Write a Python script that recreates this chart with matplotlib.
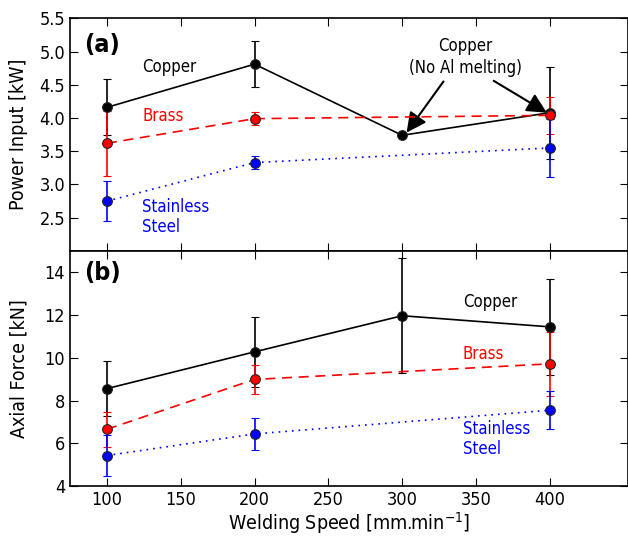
import numpy as np
import matplotlib
matplotlib.use("Agg")
import matplotlib.pyplot as plt

speeds = [100, 200, 300, 400]
speeds_3 = [100, 200, 400]

# power input [kW]
power_cu = [4.16, 4.81, 3.74, 4.08]
power_cu_err = [0.42, 0.35, 0.03, 0.69]
power_br = [3.62, 3.99, 4.04]
power_br_err = [0.49, 0.10, 0.28]
power_ss = [2.75, 3.33, 3.55]
power_ss_err = [0.30, 0.10, 0.43]

# axial force [kN]
force_cu = [8.56, 10.28, 11.97, 11.45]
force_cu_err = [1.28, 1.65, 2.70, 2.26]
force_br = [6.66, 8.99, 9.72]
force_br_err = [0.82, 0.68, 1.50]
force_ss = [5.43, 6.44, 7.55]
force_ss_err = [0.95, 0.74, 0.88]

plt.rcParams['font.family'] = 'DejaVu Sans'
plt.rcParams['font.stretch'] = 'condensed'
plt.rcParams['xtick.direction'] = 'in'
plt.rcParams['ytick.direction'] = 'in'
plt.rcParams['xtick.top'] = True
plt.rcParams['ytick.right'] = True
plt.rcParams['xtick.major.size'] = 6
plt.rcParams['ytick.major.size'] = 6

fig = plt.figure(figsize=(6.28, 5.38), dpi=100)
ax1 = fig.add_axes([0.1115, 0.5335, 0.8885, 0.4325])
ax2 = fig.add_axes([0.1115, 0.0965, 0.8885, 0.437], sharex=ax1)

def series(ax, x, y, e, color, ls):
    ax.errorbar(x, y, yerr=e, color=color, ls=ls, lw=1.2, marker='o', ms=7,
                mfc=color, mec='#222222', mew=0.8, capsize=3, elinewidth=1.2,
                ecolor=color, zorder=3)

series(ax1, speeds, power_cu, power_cu_err, 'black', '-')
series(ax1, speeds_3, power_br, power_br_err, 'red', (0, (6, 4)))
series(ax1, speeds_3, power_ss, power_ss_err, 'blue', (0, (1, 3)))

series(ax2, speeds, force_cu, force_cu_err, 'black', '-')
series(ax2, speeds_3, force_br, force_br_err, 'red', (0, (6, 4)))
series(ax2, speeds_3, force_ss, force_ss_err, 'blue', (0, (1, 3)))

ax1.set_xlim(75, 453)
ax1.set_ylim(2.0, 5.5)
ax1.set_yticks([2.5, 3.0, 3.5, 4.0, 4.5, 5.0, 5.5])
ax1.set_yticklabels(['2.5', '3.0', '3.5', '4.0', '4.5', '5.0', '5.5'])
ax2.set_ylim(4, 15)
ax2.set_yticks([4, 6, 8, 10, 12, 14])
ax2.set_xticks([100, 150, 200, 250, 300, 350, 400])
plt.setp(ax1.get_xticklabels(), visible=False)

for ax in (ax1, ax2):
    ax.tick_params(labelsize=13)
    for s in ax.spines.values():
        s.set_linewidth(1.2)

ax1.set_ylabel('Power Input [kW]', fontsize=14)
ax2.set_ylabel('Axial Force [kN]', fontsize=14)
ax2.set_xlabel('Welding Speed [mm.min$^{-1}$]', fontsize=14, labelpad=1)
ax1.yaxis.set_label_coords(-0.075, 0.5)
ax2.yaxis.set_label_coords(-0.075, 0.5)

ax1.text(0.025, 0.885, '(a)', transform=ax1.transAxes, fontsize=18, fontweight='bold', va='center')
ax2.text(0.025, 0.905, '(b)', transform=ax2.transAxes, fontsize=18, fontweight='bold', va='center')

ax1.text(124, 4.77, 'Copper', fontsize=12, color='black', va='center')
ax1.text(124, 4.03, 'Brass', fontsize=12, color='red', va='center')
ax1.text(124, 2.51, 'Stainless\nSteel', fontsize=12, color='blue', va='center', linespacing=1.1)
ax1.text(343, 4.92, 'Copper\n(No Al melting)', fontsize=12, ha='center', va='center', linespacing=1.25)
ax1.annotate('', xy=(303, 3.78), xytext=(328, 4.55),
             arrowprops=dict(arrowstyle='-|>', color='black', lw=1.5, mutation_scale=30,
                             shrinkA=0, shrinkB=0))
ax1.annotate('', xy=(398, 4.08), xytext=(362, 4.56),
             arrowprops=dict(arrowstyle='-|>', color='black', lw=1.5, mutation_scale=30,
                             shrinkA=0, shrinkB=0))

ax2.text(341, 12.6, 'Copper', fontsize=12, color='black', va='center')
ax2.text(341, 10.2, 'Brass', fontsize=12, color='red', va='center')
ax2.text(341, 6.2, 'Stainless\nSteel', fontsize=12, color='blue', va='center', linespacing=1.1)

fig.savefig('out.png', dpi=100)
